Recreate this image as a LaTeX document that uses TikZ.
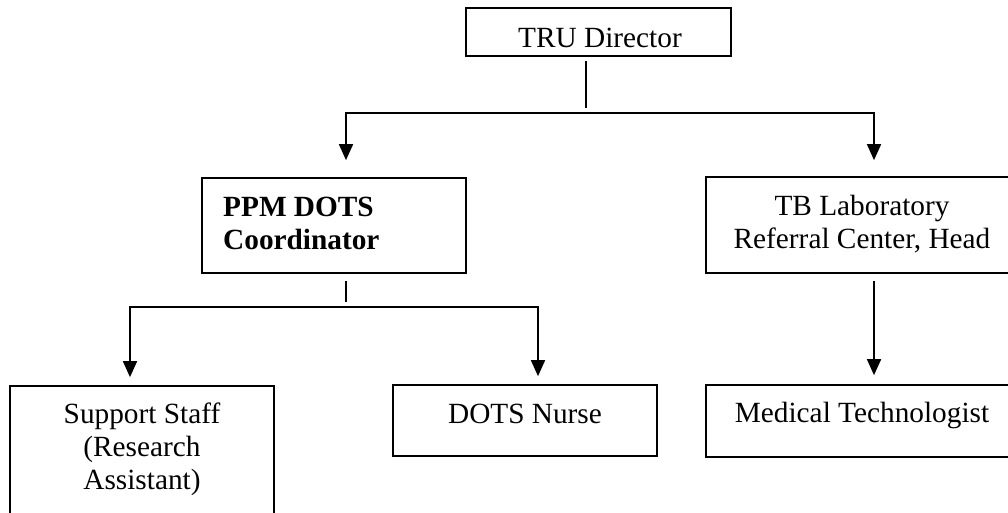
\documentclass[tikz,border=0pt]{standalone}
\usepackage{fontspec}
\setmainfont{Liberation Serif}
\usetikzlibrary{arrows.meta,calc}

\begin{document}
\begin{tikzpicture}[x=1pt, y=-1pt,
  box/.style={draw, line width=1.7pt, rectangle, inner sep=0pt},
  lbl/.style={inner sep=0pt, font=\fontsize{29.3}{33}\selectfont},
  wire/.style={line width=1.7pt},
  arr/.style={line width=1.7pt, line join=miter,
    {Triangle[width=14pt,length=16pt]}-{Triangle[width=14pt,length=16pt]}},
  arrone/.style={line width=1.7pt, -{Triangle[width=14pt,length=16pt]}}
]
\useasboundingbox (0,0) rectangle (1008,512);

% boxes
\node[box, minimum width=265pt, minimum height=48pt] (tru) at (598.5,32) {};
\node[box, minimum width=264pt, minimum height=95pt] (ppm) at (334,225.5) {};
\node[box, minimum width=312pt, minimum height=96pt] (tb) at (862,225) {};
\node[box, minimum width=264pt, minimum height=150pt] (sup) at (142,461) {};
\node[box, minimum width=264pt, minimum height=71pt] (nurse) at (525,420.5) {};
\node[box, minimum width=312pt, minimum height=72pt] (med) at (862,421) {};

% texts
\node[lbl, anchor=base] (truT) at (600,47) {TRU Director};
\node[lbl, anchor=north west, align=left, font=\fontsize{29.3}{33}\selectfont\bfseries]
  (ppmT) at (223,197) {PPM DOTS\\Coordinator};
\node[lbl, anchor=north, align=center] (tbT) at (862,195)
  {TB Laboratory\\Referral Center, Head};
\node[lbl, anchor=north, align=center] (supT) at (142,403)
  {Support Staff\\(Research\\Assistant)};
\node[lbl, anchor=base] (nurseT) at (525,423) {DOTS Nurse};
\node[lbl, anchor=base] (medT) at (862,422) {Medical Technologist};

% junction points
\coordinate (j0) at (586,108);
\coordinate (barL) at (346,113);
\coordinate (barR) at (874,113);
\coordinate (j1) at (346,302);
\coordinate (bar2L) at (130,307);
\coordinate (bar2R) at (538,307);

% director to the two heads
\draw[wire] ($(tru.south -| j0)+(0,4)$) -- (j0);
\draw[arr, shorten <=17pt, shorten >=16pt]
  (ppm.north -| barL) -- (barL) -- (barR) -- (tb.north -| barR);

% coordinator to staff
\draw[wire] ($(ppm.south -| j1)+(0,7)$) -- (j1);
\draw[arr, shorten <=8pt, shorten >=8pt]
  (sup.north -| bar2L) -- (bar2L) -- (bar2R) -- (nurse.north -| bar2R);

% laboratory head to technologist
\draw[arrone, shorten >=9pt] ($(tb.south -| barR)+(0,7)$) -- (med.north -| barR);
\end{tikzpicture}
\end{document}
